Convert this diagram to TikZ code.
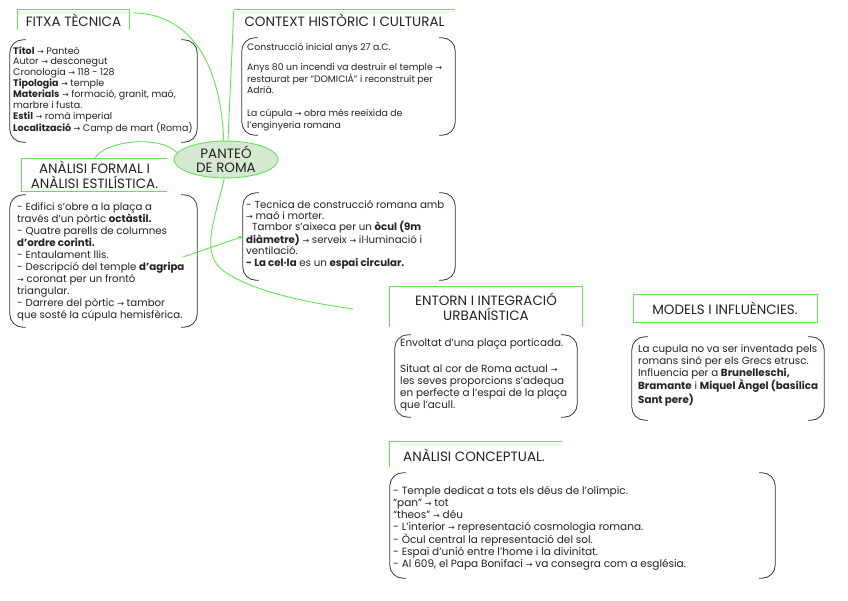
\documentclass[tikz,border=0pt]{standalone}
\usepackage{fontspec}
\setmainfont{Poppins}
\newfontfamily\arrfont{DejaVu Sans}
\usetikzlibrary{arrows.meta,shapes.geometric}
\definecolor{gl}{RGB}{100,226,90}
\definecolor{ellfill}{RGB}{214,232,210}
\definecolor{brk}{RGB}{55,55,55}
\definecolor{txt}{RGB}{35,35,35}
\newcommand\rarr{{\arrfont\fontsize{8}{11}\selectfont →}}
\newcommand\brkdraw[1]{%
  \draw[brline] ([xshift=16pt]#1.north west) -- (#1.north west) -- (#1.south west) -- ([xshift=16pt]#1.south west);
  \draw[brline] ([xshift=-16pt]#1.north east) -- (#1.north east) -- (#1.south east) -- ([xshift=-16pt]#1.south east);}
\begin{document}
\begin{tikzpicture}[x=1pt,y=-1pt,
  gline/.style={draw=gl, line width=0.9pt},
  brline/.style={draw=brk, line width=0.8pt, rounded corners=13pt},
  frame/.style={draw=none, inner sep=0, text=txt, align=center,
    font=\fontsize{13.5}{14.5}\selectfont},
  brkbox/.style={draw=none, inner sep=0},
  body/.style={inner sep=0, anchor=north west, align=left, text=txt,
    font=\fontsize{10}{11.6}\selectfont},
]
\useasboundingbox (0,0) rectangle (848,600);
\fill[white] (0,0) rectangle (848,600);

% ---------- central node
\node[ellipse, draw=gl, line width=0.9pt, fill=ellfill, minimum width=104pt, minimum height=32pt,
  inner sep=0, align=center, text=txt, font=\fontsize{13.5}{13.5}\selectfont] (pan) at (226,159.5) {PANTEÓ\\DE ROMA};

% ---------- FITXA TECNICA
\node[frame, minimum width=111pt, minimum height=20pt] (fitxaT) at (73.5,20) {FITXA TÈCNICA};
\draw[gline] (fitxaT.south west) -- (fitxaT.north west) -- (fitxaT.north east) -- (fitxaT.south east);
\node[brkbox, minimum width=187pt, minimum height=102pt] (fitxaB) at (103.5,91) {};
\brkdraw{fitxaB}
\node[body, font=\fontsize{9.5}{10.9}\selectfont] (fitxaX) at (13,46) {%
\textbf{Títol} \rarr{} Panteó\\
Autor \rarr{} desconegut\\
Cronologia \rarr{} 118 - 128\\
\textbf{Tipologia} \rarr{} temple\\
\textbf{Materials} \rarr{} formació, granit, maó,\\
marbre i fusta.\\
\textbf{Estil} \rarr{} romà imperial\\
\textbf{Localització} \rarr{} Camp de mart (Roma)};

% ---------- CONTEXT
\node[frame, minimum width=221pt, minimum height=20pt] (contextT) at (344.5,20) {CONTEXT HISTÒRIC I CULTURAL};
\draw[gline] (contextT.north west) -- (contextT.north east);
\node[brkbox, minimum width=213pt, minimum height=97pt] (contextB) at (348.5,86.5) {};
\brkdraw{contextB}
\node[body, font=\fontsize{9.3}{11.5}\selectfont] (contextX) at (247,43) {%
Construcció inicial anys 27 a.C.\\[8.5pt]
Anys 80 un incendi va destruir el temple \rarr\\
restaurat per "DOMICIÀ" i reconstruït per\\
Adrià.\\[11.5pt]
La cúpula \rarr{} obra més reeixida de\\
l'enginyeria romana};

% ---------- ANALISI FORMAL
\node[frame, minimum width=145pt, minimum height=32pt] (formalT) at (94.5,175) {ANÀLISI FORMAL I\\ANÀLISI ESTILÍSTICA.};
\draw[gline] (formalT.north east) -- (formalT.north west) -- (formalT.south west) -- (formalT.south east);
\node[brkbox, minimum width=187pt, minimum height=132pt] (formalB) at (103.5,261) {};
\brkdraw{formalB}
\node[body, font=\fontsize{10.2}{11.9}\selectfont] (formalX) at (17,203) {%
- Edifici s'obre a la plaça a\\
través d'un pòrtic \textbf{octàstil.}\\
- Quatre parells de columnes\\
\textbf{d'ordre corinti.}\\
- Entaulament llis.\\
- Descripció del temple \textbf{d'agripa}\\
\rarr{} coronat per un frontó\\
triangular.\\
- Darrere del pòrtic \rarr{} tambor\\
que sosté la cúpula hemisfèrica.};

% ---------- middle body
\node[brkbox, minimum width=212pt, minimum height=87pt] (midB) at (349,236.5) {};
\brkdraw{midB}
\node[body, font=\fontsize{10.2}{11.2}\selectfont] (midX) at (246,200) {%
- Tecnica de construcció romana amb\\
\rarr{} maó i morter.\\
\hspace*{6pt}Tambor s'aixeca per un \textbf{òcul (9m}\\
\textbf{diàmetre)} \rarr{} serveix \rarr{} il·luminació i\\
ventilació.\\
\textbf{- La cel·la} es un \textbf{espai circular.}};

% ---------- ENTORN
\node[frame, minimum width=192pt, minimum height=40pt] (entT) at (486,307) {ENTORN I INTEGRACIÓ\\URBANÍSTICA};
\draw[gline] (entT.south west) -- (entT.north west) -- (entT.north east) -- (entT.south east);
\node[brkbox, minimum width=182pt, minimum height=82pt] (entB) at (486,376) {};
\brkdraw{entB}
\node[body, font=\fontsize{10.4}{11.8}\selectfont] (entX) at (400,338) {%
Envoltat d'una plaça porticada.\\[15pt]
Situat al cor de Roma actual \rarr\\
les seves proporcions s'adequa\\
en perfecte a l'espai de la plaça\\
que l'acull.};

% ---------- MODELS
\node[frame, draw=gl, line width=0.9pt, minimum width=184pt, minimum height=28pt] (modT) at (725,308) {MODELS I INFLUÈNCIES.};
\node[brkbox, minimum width=192pt, minimum height=83pt] (modB) at (728,378.5) {};
\brkdraw{modB}
\node[body, font=\fontsize{10.3}{11.8}\selectfont] (modX) at (638,344.5) {%
La cupula no va ser inventada pels\\
romans sinó per els Grecs etrusc.\\
Influencia per a \textbf{Brunelleschi,}\\
\textbf{Bramante} i \textbf{Miquel Àngel (basílica}\\
\textbf{Sant pere)}};

% ---------- ANALISI CONCEPTUAL
\node[frame, minimum width=172pt, minimum height=25pt] (concT) at (476,454.5) {};
\node[frame, anchor=west] (concTx) at (403,455) {ANÀLISI CONCEPTUAL.};
\draw[gline] (concT.south west) -- (concT.north west) -- (concT.north east);
\node[brkbox, minimum width=385pt, minimum height=105pt] (concB) at (582.5,525.5) {};
\brkdraw{concB}
\node[body, font=\fontsize{10.5}{11.8}\selectfont] (concX) at (393,486.5) {%
- Temple dedicat a tots els déus de l'olímpic.\\
“pan” \rarr{} tot\\
“theos” \rarr{} déu\\
- L'interior \rarr{} representació cosmologia romana.\\
- Òcul central la representació del sol.\\
- Espai d'unió entre l'home i la divinitat.\\
- Al 609, el Papa Bonifaci \rarr{} va consegra com a església.};

% ---------- connectors
\draw[gline] ([shift={(5pt,-3pt)}]fitxaT.north east) .. controls (195,15) and (221,70) .. (pan.97);
\draw[gline] (pan.84) -- (contextT.north west);
\draw[gline] (formalT.north) .. controls (105,140) and (160,135) .. (pan.172);
\coordinate (entEnd) at (353,309);
\draw[gline] (pan.265) .. controls (213,225) and (200,255) .. (225,272)
  .. controls (255,292) and (305,302) .. (entEnd);
\coordinate (fmStart) at (183,257);
\draw[gline, -{Stealth[length=4pt,width=3.5pt]}] (fmStart) -- (midB.west);
\end{tikzpicture}
\end{document}
